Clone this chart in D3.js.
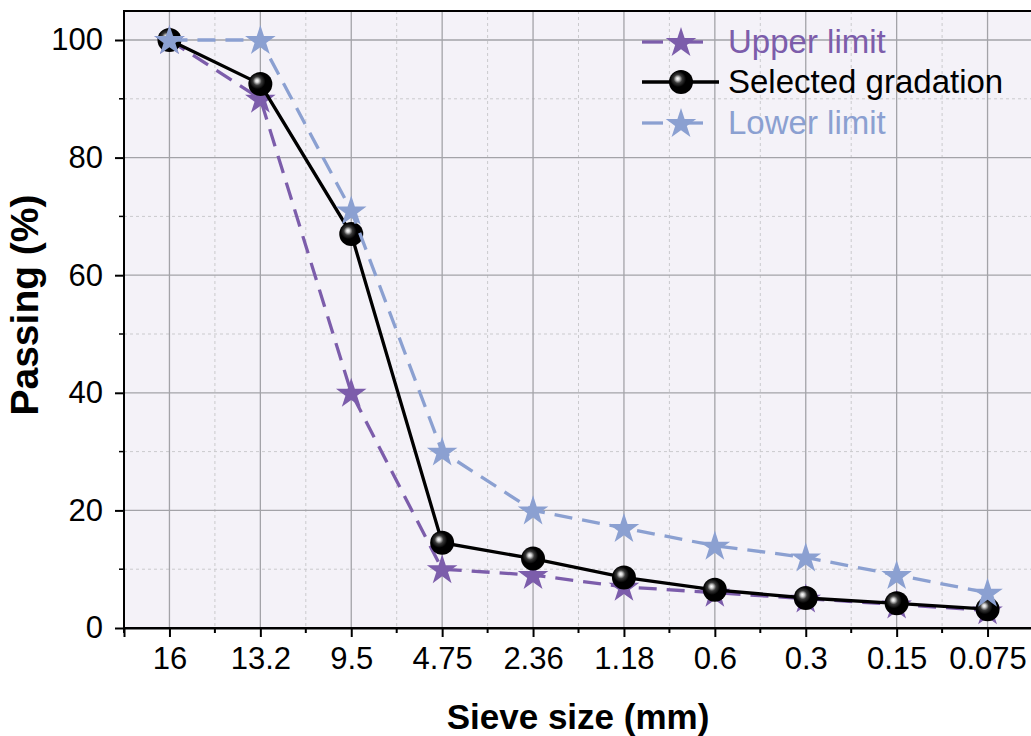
<!DOCTYPE html>
<html><head><meta charset="utf-8">
<script src="https://cdn.jsdelivr.net/npm/d3@7"></script>
<style>body{margin:0;background:#fff;} svg{display:block;font-family:"Liberation Sans",Arial,sans-serif;}</style>
</head><body><svg id="c" width="1031" height="736"></svg>
<script>
const sieves = ["16","13.2","9.5","4.75","2.36","1.18","0.6","0.3","0.15","0.075"];
const upperLimit = [100,90,40,10,9,7,6,5,4,3];
const selected = [100,92.5,67,14.5,11.8,8.6,6.5,5.1,4.2,3.2];
const lowerLimit = [100,100,71,30,20,17,14,12,9,6];
const yTicks = [0,20,40,60,80,100];
const yMinor = [10,30,50,70,90];

const FONT = "Liberation Sans, Arial, sans-serif";
const svg = d3.select("#c");
const L=124, T=11, R=1033, B=628;
const x = d3.scalePoint().domain(sieves).range([L,R]).padding(0.5);
const step = x.step();
const y = d3.scaleLinear().domain([0,100]).range([B,40]);

svg.append("rect").attr("x",L).attr("y",T).attr("width",R-L).attr("height",B-T).attr("fill","#f4f2f8");

const defs = svg.append("defs");
const g = defs.append("radialGradient").attr("id","ball").attr("cx","40%").attr("cy","40%").attr("r","60%").attr("fx","36%").attr("fy","36%");
g.append("stop").attr("offset","0%").attr("stop-color","#ffffff");
g.append("stop").attr("offset","12%").attr("stop-color","#d0d0d0");
g.append("stop").attr("offset","30%").attr("stop-color","#3a3a3a");
g.append("stop").attr("offset","55%").attr("stop-color","#000");
g.append("stop").attr("offset","100%").attr("stop-color","#000");

// minor grid
const xMinor = sieves.map(s=>x(s)+step/2);
svg.append("g").selectAll("line").data(xMinor.slice(0,-1)).join("line")
 .attr("x1",d=>d).attr("x2",d=>d).attr("y1",T).attr("y2",B)
 .attr("stroke","#cacacd").attr("stroke-width",1).attr("stroke-dasharray","3,3");
svg.append("g").selectAll("line").data(yMinor).join("line")
 .attr("x1",L).attr("x2",R).attr("y1",d=>y(d)).attr("y2",d=>y(d))
 .attr("stroke","#cacacd").attr("stroke-width",1).attr("stroke-dasharray","3,3");
// major grid
svg.append("g").selectAll("line").data(sieves).join("line")
 .attr("x1",d=>x(d)).attr("x2",d=>x(d)).attr("y1",T).attr("y2",B)
 .attr("stroke","#a3a3a8").attr("stroke-width",1.3);
svg.append("g").selectAll("line").data(yTicks.slice(1)).join("line")
 .attr("x1",L).attr("x2",R).attr("y1",d=>y(d)).attr("y2",d=>y(d))
 .attr("stroke","#a3a3a8").attr("stroke-width",1.3);

// frame
svg.append("rect").attr("x",L).attr("y",T).attr("width",R-L).attr("height",B-T).attr("fill","none").attr("stroke","#000").attr("stroke-width",2);

// axes
const xAxis = d3.axisBottom(x).tickSize(9).tickPadding(10);
const xa = svg.append("g").attr("transform",`translate(0,${B})`).call(xAxis);
xa.select(".domain").attr("stroke-width",2);
xa.selectAll(".tick line").attr("stroke-width",2);
xa.selectAll("text").attr("font-size",31).attr("fill","#000").attr("font-family",FONT);
svg.append("g").selectAll("line").data([L].concat(xMinor.slice(0,-1))).join("line")
 .attr("x1",d=>d).attr("x2",d=>d).attr("y1",B).attr("y2",B+5).attr("stroke","#000").attr("stroke-width",2);

const yAxis = d3.axisLeft(y).tickValues(yTicks).tickSize(9).tickPadding(12);
const ya = svg.append("g").attr("transform",`translate(${L},0)`).call(yAxis);
ya.select(".domain").remove();
ya.selectAll(".tick line").attr("stroke-width",2);
ya.selectAll("text").attr("font-size",31).attr("fill","#000").attr("font-family",FONT);
svg.append("g").selectAll("line").data(yMinor).join("line")
 .attr("x1",L-5).attr("x2",L).attr("y1",d=>y(d)).attr("y2",d=>y(d)).attr("stroke","#000").attr("stroke-width",1.5);

// titles
svg.append("text").attr("x",578).attr("y",729).attr("text-anchor","middle").attr("font-size",35).attr("font-weight","bold").text("Sieve size (mm)");
svg.append("text").attr("transform",`translate(38,305) rotate(-90)`).attr("text-anchor","middle").attr("font-size",39).attr("font-weight","bold").text("Passing (%)");

const star = d3.symbol().type(d3.symbolStar).size(290);
const line = d3.line().x((d,i)=>x(sieves[i])).y(d=>y(d));

function series(vals,color,dash,kind){
  const gg = svg.append("g");
  gg.append("path").datum(vals).attr("d",line).attr("fill","none").attr("stroke",color)
    .attr("stroke-width",3.3).attr("stroke-dasharray",dash||null);
  if(kind==="star"){
    gg.selectAll("path.m").data(vals).join("path").attr("class","m")
      .attr("transform",(d,i)=>`translate(${x(sieves[i])},${y(d)+1})`).attr("d",star).attr("fill",color);
  } else {
    gg.selectAll("circle").data(vals).join("circle")
      .attr("cx",(d,i)=>x(sieves[i])).attr("cy",d=>y(d)).attr("r",12).attr("fill","url(#ball)");
  }
}
series(upperLimit,"#7c5dab","18,10","star");
series(selected,"#000",null,"ball");
series(lowerLimit,"#8ba0d1","18,10","star");

// legend
const leg = [{t:"Upper limit",c:"#7c5dab",k:"star"},{t:"Selected gradation",c:"#000",k:"ball"},{t:"Lower limit",c:"#8ba0d1",k:"star"}];
const ly = [42,82,123];
leg.forEach((e,i)=>{
  const lg = svg.append("g");
  if(e.k==="star"){
    lg.append("line").attr("x1",642).attr("x2",663).attr("y1",ly[i]).attr("y2",ly[i]).attr("stroke",e.c).attr("stroke-width",3.3);
    lg.append("line").attr("x1",688).attr("x2",703).attr("y1",ly[i]).attr("y2",ly[i]).attr("stroke",e.c).attr("stroke-width",3.3);
    lg.append("path").attr("transform",`translate(681,${ly[i]+1})`).attr("d",star).attr("fill",e.c);
  } else {
    lg.append("line").attr("x1",642).attr("x2",719).attr("y1",ly[i]).attr("y2",ly[i]).attr("stroke","#000").attr("stroke-width",3.3);
    lg.append("circle").attr("cx",681).attr("cy",ly[i]).attr("r",12).attr("fill","url(#ball)");
  }
  lg.append("text").attr("x",728).attr("y",ly[i]+11).attr("font-size",33).attr("fill",e.c).text(e.t);
});
</script></body></html>
